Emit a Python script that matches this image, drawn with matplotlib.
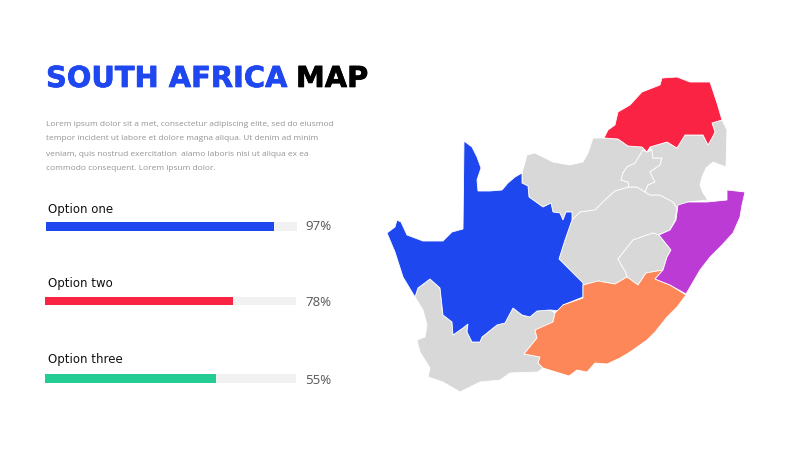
import matplotlib
matplotlib.use('Agg')
import matplotlib.pyplot as plt
import matplotlib.patheffects as pe

W, H = 800, 450

options = ['Option one', 'Option two', 'Option three']
percent_labels = ['97%', '78%', '55%']
fill_values = [91, 75, 68]  # drawn length of the bars, does not follow the labels
bar_colors = ['#1e47f0', '#fb2343', '#22cc93']

body_lines = ['Lorem ipsum dolor sit a met, consectetur adipiscing elite, sed do eiusmod',
              'tempor incident ut labore et dolore magna aliqua. Ut denim ad minim',
              'veniam, quis nostrud exercitation  alamo laboris nisi ut aliqua ex ea',
              'commodo consequent. Lorem ipsum dolor.']

### map outlines
northern_cape = [(464,141),(472,147),(477,157),(481,168),(477,180),(478,191),(490,191),(502,190),(508,183),(515,177),(522,173),
                 (522,183),(528,186),(529,197),(543,207),(551,203),(553,212),(560,213),(563,220),(566,212),(572,212),(572,220),
                 (565,240),(559,259),(568,268),(583,283),(583,297),(563,305),(562,311),(550,310),(537,311),(530,317),(522,315),(513,308),
                 (505,323),(497,325),(482,337),(480,342),(472,342),(467,332),(468,324),(463,328),(453,335),(452,322),
                 (443,315),(440,288),(430,279),(418,288),(415,297),(403,277),(395,252),(387,233),(395,227),(397,220),(401,222),
                 (407,235),(423,241),(443,241),(452,232),(463,229)]
western_cape = [(415,297),(418,288),(430,279),(440,288),(443,315),(452,322),(453,335),(463,328),(468,324),(467,332),(472,342),
                (480,342),(482,337),(497,325),(505,323),(513,308),(522,315),(530,317),(537,311),(550,310),(555,313),(553,322),(545,327),
                (535,330),(537,338),(524,354),(540,357),(538,363),(543,368),(538,372),(510,373),(500,380),(480,382),(460,392),
                (443,382),(428,377),(430,368),(420,352),(417,340),(425,337),(427,325),(423,310)]
eastern_cape = [(583,285),(598,281),(615,284),(627,277),(638,285),(646,273),(663,270),(655,279),(670,285),(686,295),(677,307),(667,317),
                (655,332),(647,340),(630,352),(620,358),(607,364),(595,363),(587,372),(577,370),(569,376),(543,368),(538,363),(540,357),(524,354),
                (537,338),(535,330),(553,322),(555,313),(563,305),(583,298)]
kwazulu_natal = [(727,190),(745,192),(742,205),(740,217),(733,233),(722,245),(710,257),(700,270),(686,294),(670,285),(655,279),(663,270),(667,257),(671,250),
                 (659,235),(670,230),(676,220),(678,205),(688,202),(707,202),(727,200)]
limpopo = [(604,138),(608,130),(615,125),(618,112),(630,105),(642,92),(660,85),(662,78),(677,77),(690,82),(710,82),(717,103),
           (722,120),(712,123),(715,132),(712,138),(708,145),(703,135),(685,135),(677,148),(667,142),(650,147),(647,152),
           (642,147),(628,146),(618,139)]
north_west = [(522,173),(527,155),(535,153),(553,162),(570,165),(583,162),(588,153),(593,138),(604,138),(618,139),(628,146),(642,147),
              (647,152),(643,150),(640,155),(635,163),(627,167),(623,173),(621,180),(628,182),(629,187),(615,191),(605,200),(595,210),(580,212),(570,223),
              (572,212),(566,212),(563,220),(560,213),(553,212),(551,203),(543,207),(529,197),(528,186),(522,183)]
free_state = [(572,220),(580,212),(595,210),(605,200),(615,191),(629,187),(637,187),(650,195),(660,195),(673,202),(677,208),(675,220),
              (670,230),(658,235),(653,233),(633,240),(618,259),(626,273),(627,277),(615,284),(598,281),(583,285),(568,268),
              (559,259),(565,240)]
lesotho = [(653,233),(659,235),(671,250),(667,257),(663,270),(646,273),(638,285),(627,277),(626,273),(618,259),(633,240)]
gauteng = [(643,150),(640,155),(635,163),(627,167),(623,173),(621,180),(628,182),(629,187),(637,187),(645,192),(648,185),(655,182),
           (650,172),(660,165),(662,158),(653,158),(652,150),(647,152)]
mpumalanga = [(650,147),(667,142),(677,148),(685,135),(703,135),(708,145),(712,138),(715,132),(712,123),(722,120),(727,130),
              (726,167),(713,162),(706,168),(702,177),(700,185),(703,193),(708,200),(688,202),(677,208),(673,202),(660,195),(650,195),(645,192),(648,185),(655,182),
              (650,172),(660,165),(662,158),(653,158),(652,150)]

fig = plt.figure(figsize=(W/100, H/100), dpi=100)
ax = fig.add_axes([0, 0, 1, 1])
ax.set_xlim(0, W)
ax.set_ylim(H, 0)
ax.axis('off')

grey = '#d8d8d8'
regions = [(western_cape, grey), (north_west, grey), (free_state, grey), (lesotho, grey), (gauteng, grey), (mpumalanga, grey),
           (northern_cape, '#1e47f0'), (eastern_cape, '#fd8758'), (kwazulu_natal, '#bb3bd4'), (limpopo, '#fb2343')]
for outline, color in regions:
    xs = [p[0] for p in outline]
    ys = [p[1] for p in outline]
    ax.fill(xs, ys, facecolor=color, edgecolor='white', linewidth=0.6)

### title, stroked a little because the original face is heavier
heavy = [pe.withStroke(linewidth=0.5)]
t = ax.text(46, 87, 'SOUTH AFRICA', color='#1e47f0', fontsize=20.8, fontweight='bold', family='DejaVu Sans', va='baseline')
t.set_path_effects([pe.withStroke(linewidth=0.5, foreground='#1e47f0')])
t = ax.text(296, 87, 'MAP', color='black', fontsize=20.8, fontweight='bold', family='DejaVu Sans', va='baseline')
t.set_path_effects([pe.withStroke(linewidth=0.5, foreground='black')])

### text block
for y, line in zip([124, 139, 154, 169], body_lines):
    ax.text(46, y, line, color='#949494', fontsize=6.05, family='Open Sans', va='center')

### bars
bar_boxes = [(46, 222, 251, 9), (45, 297, 251, 8), (45, 374, 251, 9)]
label_y = [210, 284, 359]
pct_y = [227, 303, 380]
for i in range(len(options)):
    x0, y0, w, h = bar_boxes[i]
    bar_ax = fig.add_axes([x0/W, 1-(y0+h)/H, w/W, h/H])
    bar_ax.set_xlim(0, 100)
    bar_ax.set_ylim(-0.5, 0.5)
    bar_ax.set_facecolor('#f1f1f1')
    bar_ax.barh(0, fill_values[i], height=1, color=bar_colors[i])
    bar_ax.set_xticks([])
    bar_ax.set_yticks([])
    for s in bar_ax.spines.values():
        s.set_visible(False)
    ax.text(48, label_y[i], options[i], color='#111111', fontsize=8.5, family='DejaVu Sans', va='center')
    ax.text(331, pct_y[i], percent_labels[i], color='#555555', fontsize=9.5, family='Open Sans', va='center', ha='right')

fig.savefig('out.png', dpi=100)
